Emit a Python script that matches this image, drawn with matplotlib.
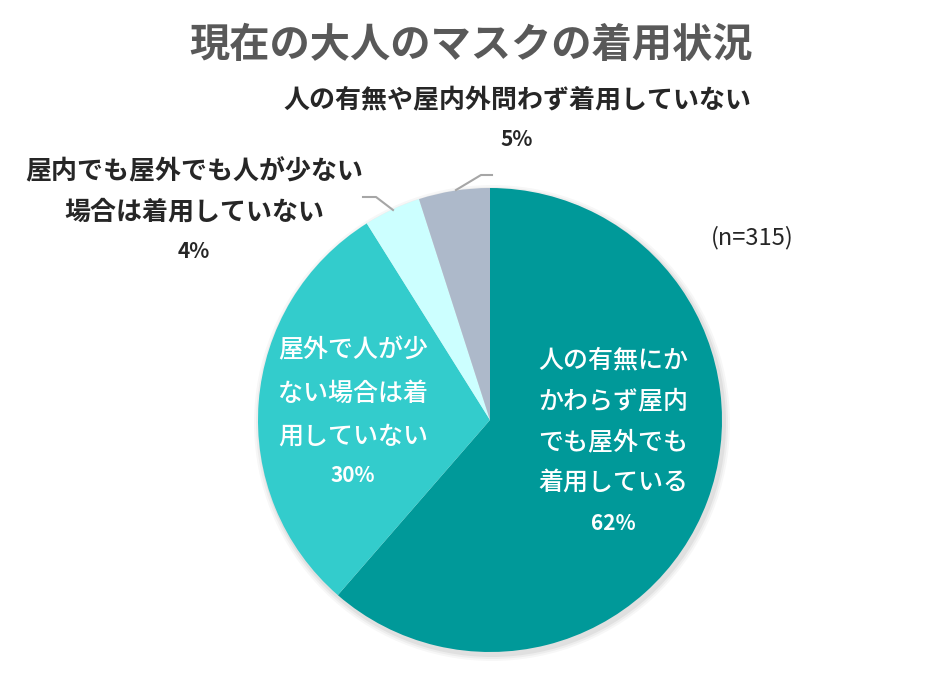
import matplotlib
matplotlib.use("Agg")
import matplotlib.pyplot as plt
from matplotlib.patches import Circle

plt.rcParams['font.family'] = ['Noto Sans CJK JP', 'DejaVu Sans']

title = "現在の大人のマスクの着用状況"
categories = ["人の有無にかかわらず屋内でも屋外でも着用している",
              "屋外で人が少ない場合は着用していない",
              "屋内でも屋外でも人が少ない場合は着用していない",
              "人の有無や屋内外問わず着用していない"]
values = [62, 30, 4, 5]
pct_labels = ["62%", "30%", "4%", "5%"]
colors = ["#009999", "#33CCCC", "#CCFFFF", "#ADB9CA"]
note = "(n=315)"

W, H = 936, 677
fig = plt.figure(figsize=(W / 100, H / 100), dpi=100)
ax = fig.add_axes([0, 0, 1, 1])
ax.set_xlim(0, W)
ax.set_ylim(0, H)
ax.set_aspect('equal')
ax.axis('off')

cx, cy, r = 490, H - 420, 232

# subtle shadow
for i, a in enumerate([0.05, 0.04, 0.03]):
    ax.add_patch(Circle((cx + 2, cy - 3), r + 2 + i * 2, color='black', alpha=a, lw=0, zorder=0))

ax.pie(values, colors=colors, startangle=90, counterclock=False,
       center=(cx, cy), radius=r, wedgeprops=dict(linewidth=0), frame=True)
ax.set_xlim(0, W)
ax.set_ylim(0, H)
ax.axis('off')

def y(p):
    return H - p

ax.text(471, y(45), title, ha='center', va='center', fontsize=29,
        fontweight='bold', color='#595959')

# inside labels
dark_lines = ["人の有無にか", "かわらず屋内", "でも屋外でも", "着用している"]
for i, t in enumerate(dark_lines):
    ax.text(613, y(360 + i * 41), t, ha='center', va='center', fontsize=18,
            color='white', fontweight='medium')
ax.text(613, y(523), pct_labels[0], ha='center', va='center', fontsize=15,
        color='white', fontweight='bold')

tq_lines = ["屋外で人が少", "ない場合は着", "用していない"]
for i, t in enumerate(tq_lines):
    ax.text(353, y(350 + i * 43.5), t, ha='center', va='center', fontsize=18,
            color='white', fontweight='medium')
ax.text(353, y(475), pct_labels[1], ha='center', va='center', fontsize=15,
        color='white', fontweight='bold')

# outside labels
ax.text(517, y(100), categories[3], ha='center', va='center', fontsize=18.7,
        fontweight='bold', color='#262626')
ax.text(517, y(140), pct_labels[3], ha='center', va='center', fontsize=15,
        fontweight='bold', color='#262626')

ax.text(194, y(172), "屋内でも屋外でも人が少ない", ha='center', va='center',
        fontsize=18.7, fontweight='bold', color='#262626')
ax.text(194, y(212), "場合は着用していない", ha='center', va='center',
        fontsize=18.7, fontweight='bold', color='#262626')
ax.text(194, y(252), pct_labels[2], ha='center', va='center', fontsize=15,
        fontweight='bold', color='#262626')

ax.text(752, y(238), note, ha='center', va='center', fontsize=17, color='#262626')

# leader lines
ax.plot([456, 481, 492], [y(190), y(175), y(175)], color='#A6A6A6', lw=1.5)
ax.plot([363, 376, 393], [y(197), y(197), y(210)], color='#A6A6A6', lw=1.5)

fig.savefig("out.png", dpi=100)
